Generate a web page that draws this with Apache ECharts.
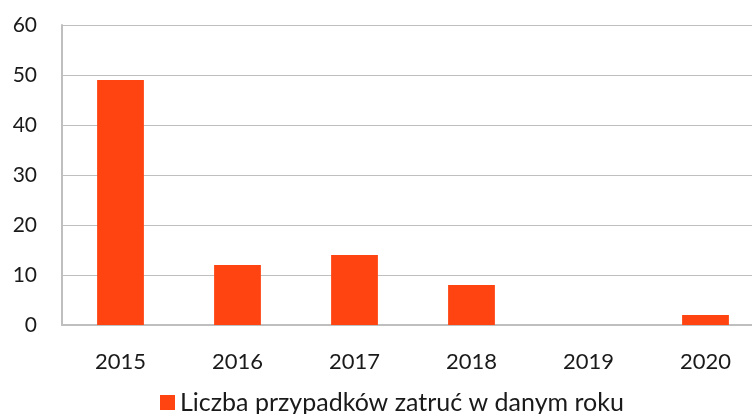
<!DOCTYPE html>
<html><head><meta charset="utf-8">
<script src="https://cdn.jsdelivr.net/npm/echarts@6/dist/echarts.min.js"></script>
<style>html,body{margin:0;padding:0;background:#fff;width:752px;height:414px;overflow:hidden}#c{width:800px;height:414px}</style>
</head><body><div id="c"></div>
<script>
const categories = ['2015','2016','2017','2018','2019','2020'];
const values = [49, 12, 14, 8, 0, 2];
const seriesName = 'Liczba przypadków zatruć w danym roku';
const yTicks = [0, 10, 20, 30, 40, 50, 60];

const chart = echarts.init(document.getElementById('c'), null, {renderer:'canvas'});
const font = 'Lato, "Open Sans", sans-serif';
chart.setOption({
  animation: false,
  grid: {left: 62, top: 25, width: 702, height: 300, containLabel: false},
  legend: {
    top: 385, left: 155, itemWidth: 15, itemHeight: 15, itemGap: 8,
    icon: 'rect',
    textStyle: {fontSize: 25, color: '#1a1a1a', fontFamily: font},
    data: [seriesName]
  },
  xAxis: {
    type: 'category', data: categories,
    axisLine: {show: true, lineStyle: {color: '#bfbfbf', width: 2}},
    axisTick: {show: false},
    axisLabel: {fontSize: 22, color: '#1a1a1a', margin: 26, fontFamily: font}
  },
  yAxis: {
    type: 'value', min: yTicks[0], max: yTicks[yTicks.length-1], interval: 10,
    axisLine: {show: true, lineStyle: {color: '#bfbfbf', width: 2}},
    axisTick: {show: false},
    axisLabel: {fontSize: 21, color: '#1a1a1a', margin: 25, fontFamily: font},
    splitLine: {show: true, lineStyle: {color: '#bfbfbf', width: 1}}
  },
  series: [{
    name: seriesName, type: 'bar', data: values, barWidth: '40%',
    itemStyle: {color: '#ff4411'}
  }]
});
</script></body></html>
